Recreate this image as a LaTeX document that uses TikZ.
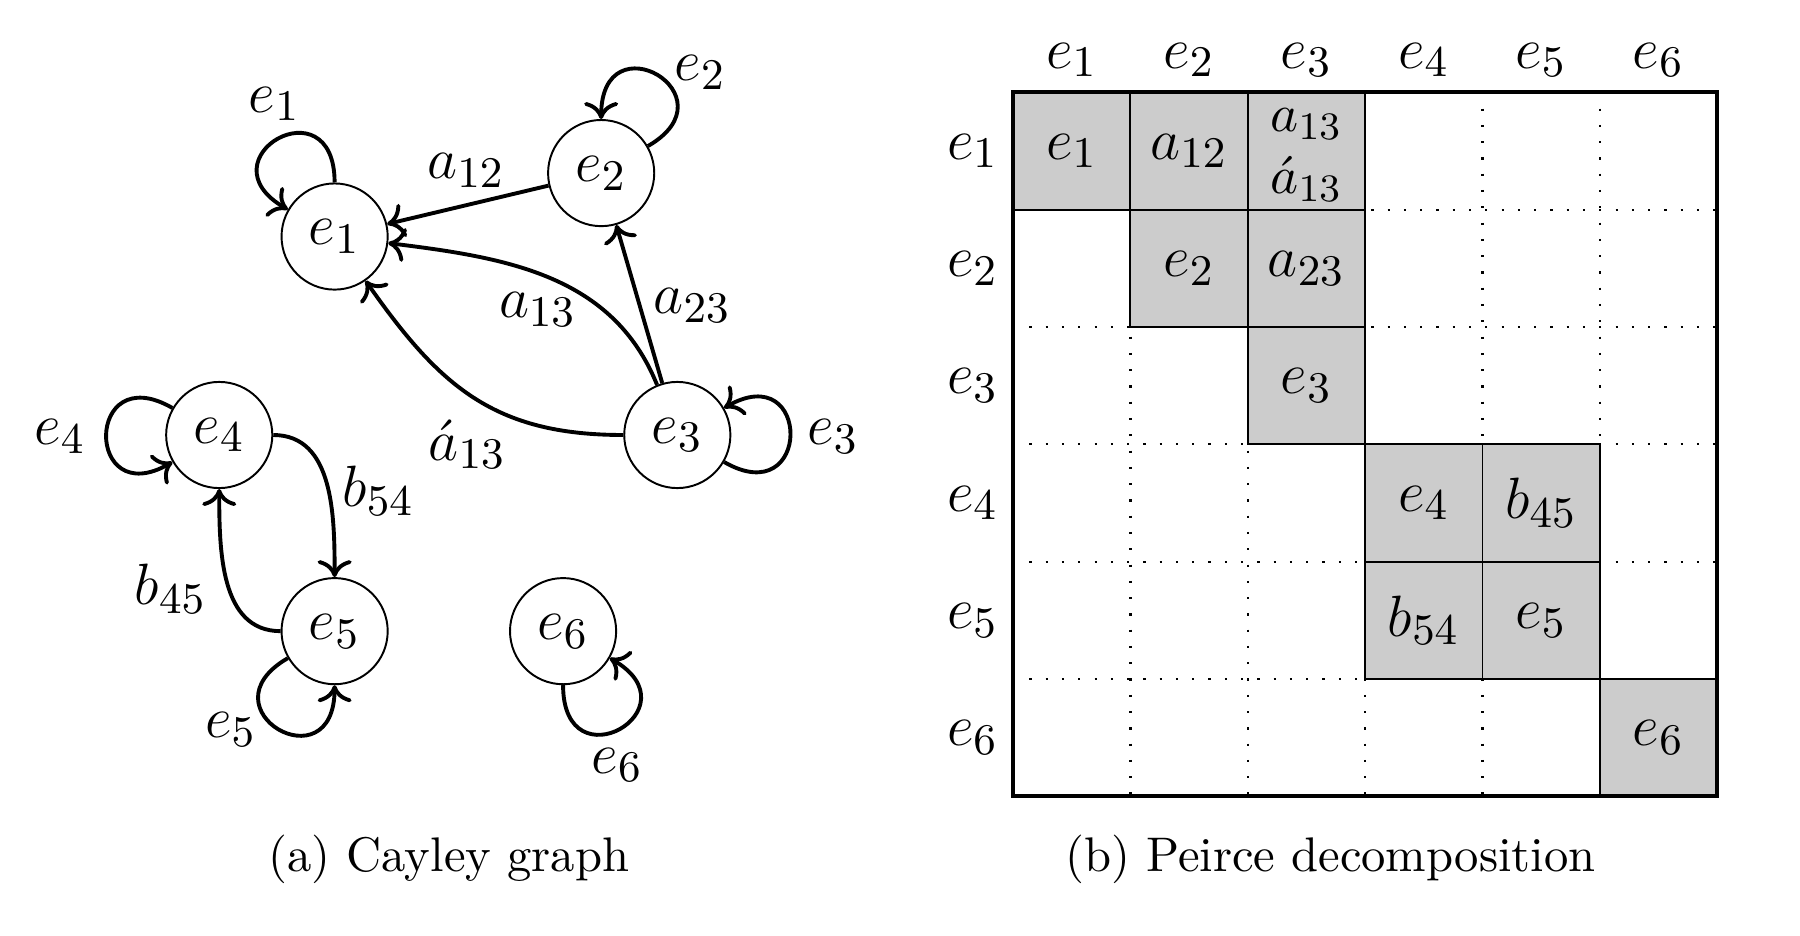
\documentclass[tikz,border=0pt]{standalone}
\usetikzlibrary{arrows.meta}
\begin{document}
\begin{tikzpicture}[x=0.2374pt,y=0.2374pt,
  vtx/.style={circle,draw,line width=0.4pt,minimum size=21.84pt,inner sep=0pt,font=\fontsize{12.4}{15}\selectfont},
  arr/.style={line width=0.8pt,-{Computer Modern Rightarrow[length=3.5pt,width=7pt]}},
  lbl/.style={font=\fontsize{12.4}{15}\selectfont,inner sep=0pt},
  cell/.style={draw,line width=0.4pt,fill=gray!40,minimum size=24.14pt,inner sep=0pt,font=\fontsize{12.4}{15}\selectfont},
  small/.style={font=\fontsize{11.2}{13}\selectfont,inner sep=0pt},
  dotline/.style={line width=0.45pt,dash pattern=on 0.45pt off 2.9pt},
]
\useasboundingbox (0,0) rectangle (1560,811);
% ---------- Cayley graph ----------
\node[vtx] (e1) at (290,606) {$e_1$};
\node[vtx] (e2) at (521,661) {$e_2$};
\node[vtx] (e3) at (587,434) {$e_3$};
\node[vtx] (e4) at (190,434) {$e_4$};
\node[vtx] (e5) at (290,264) {$e_5$};
\node[vtx] (e6) at (488,264) {$e_6$};
% loops
\draw[arr] (e1.90) .. controls +(90:88) and +(150:88) .. (e1.150);
\draw[arr] (e2.30) .. controls +(30:88) and +(90:88) .. (e2.90);
\draw[arr] (e3.-30) .. controls +(-30:88) and +(30:88) .. (e3.30);
\draw[arr] (e4.150) .. controls +(150:88) and +(210:88) .. (e4.210);
\draw[arr] (e5.210) .. controls +(210:88) and +(270:88) .. (e5.270);
\draw[arr] (e6.270) .. controls +(270:88) and +(330:88) .. (e6.330);
\node[lbl] (l1) at (238,721) {$e_1$};
\node[lbl] (l2) at (607,748) {$e_2$};
\node[lbl] (l3) at (722,433) {$e_3$};
\node[lbl] (l4) at (52,433) {$e_4$};
\node[lbl] (l5) at (200,179) {$e_5$};
\node[lbl] (l6) at (535,148) {$e_6$};
% edges
\draw[arr] (e2) -- (e1);
\draw[arr] (e3) -- (e2);
\draw[arr] (e3) to[out=112,in=353] (e1);
\draw[arr] (e3) to[out=180,in=305,looseness=1.1] (e1);
\draw[arr] (e4) to[out=0,in=90] (e5);
\draw[arr] (e5) to[out=180,in=270] (e4);
\node[lbl] (la12) at (404,663) {$a_{12}$};
\node[lbl] (la13) at (466,543) {$a_{13}$};
\node[lbl] (lb13) at (405,426) {$\acute{a}_{13}$};
\node[lbl] (la23) at (600,546) {$a_{23}$};
\node[lbl] (lb54) at (328,386) {$b_{54}$};
\node[lbl] (lb45) at (148,301) {$b_{45}$};
\node (capa) at (389,66) {(a) Cayley graph};
% ---------- Peirce decomposition ----------
\def\cw{101.7}
\def\xl{878}
\def\yt{731}
\foreach \i in {1,...,5} {
  \draw[dotline] (\xl,{\yt-\cw*\i}) -- ({\xl+6*\cw},{\yt-\cw*\i});
  \draw[dotline] ({\xl+\cw*\i},\yt) -- ({\xl+\cw*\i},{\yt-6*\cw});
}
\node[cell] (c11) at ({\xl+0.5*\cw},{\yt-0.5*\cw}) {$e_1$};
\node[cell] (c12) at ({\xl+1.5*\cw},{\yt-0.5*\cw}) {$a_{12}$};
\node[cell] (c13) at ({\xl+2.5*\cw},{\yt-0.5*\cw}) {};
\node[small] (c13a) at ({\xl+2.5*\cw},{\yt-0.5*\cw+23}) {$a_{13}$};
\node[small] (c13b) at ({\xl+2.5*\cw},{\yt-0.5*\cw-24}) {$\acute{a}_{13}$};
\node[cell] (c22) at ({\xl+1.5*\cw},{\yt-1.5*\cw}) {$e_2$};
\node[cell] (c23) at ({\xl+2.5*\cw},{\yt-1.5*\cw}) {$a_{23}$};
\node[cell] (c33) at ({\xl+2.5*\cw},{\yt-2.5*\cw}) {$e_3$};
\node[cell] (c44) at ({\xl+3.5*\cw},{\yt-3.5*\cw}) {$e_4$};
\node[cell] (c45) at ({\xl+4.5*\cw},{\yt-3.5*\cw}) {$b_{45}$};
\node[cell] (c54) at ({\xl+3.5*\cw},{\yt-4.5*\cw}) {$b_{54}$};
\node[cell] (c55) at ({\xl+4.5*\cw},{\yt-4.5*\cw}) {$e_5$};
\node[cell] (c66) at ({\xl+5.5*\cw},{\yt-5.5*\cw}) {$e_6$};
\draw[line width=0.8pt] (\xl,\yt) rectangle ({\xl+6*\cw},{\yt-6*\cw});
\foreach \j in {1,...,6} {
  \node[lbl] (h\j) at ({\xl+\cw*(\j-0.5)},759) {$e_{\j}$};
  \node[lbl] (r\j) at (843,{\yt-\cw*(\j-0.5)}) {$e_{\j}$};
}
\node (capb) at (1153,66) {(b) Peirce decomposition};
\end{tikzpicture}
\end{document}
